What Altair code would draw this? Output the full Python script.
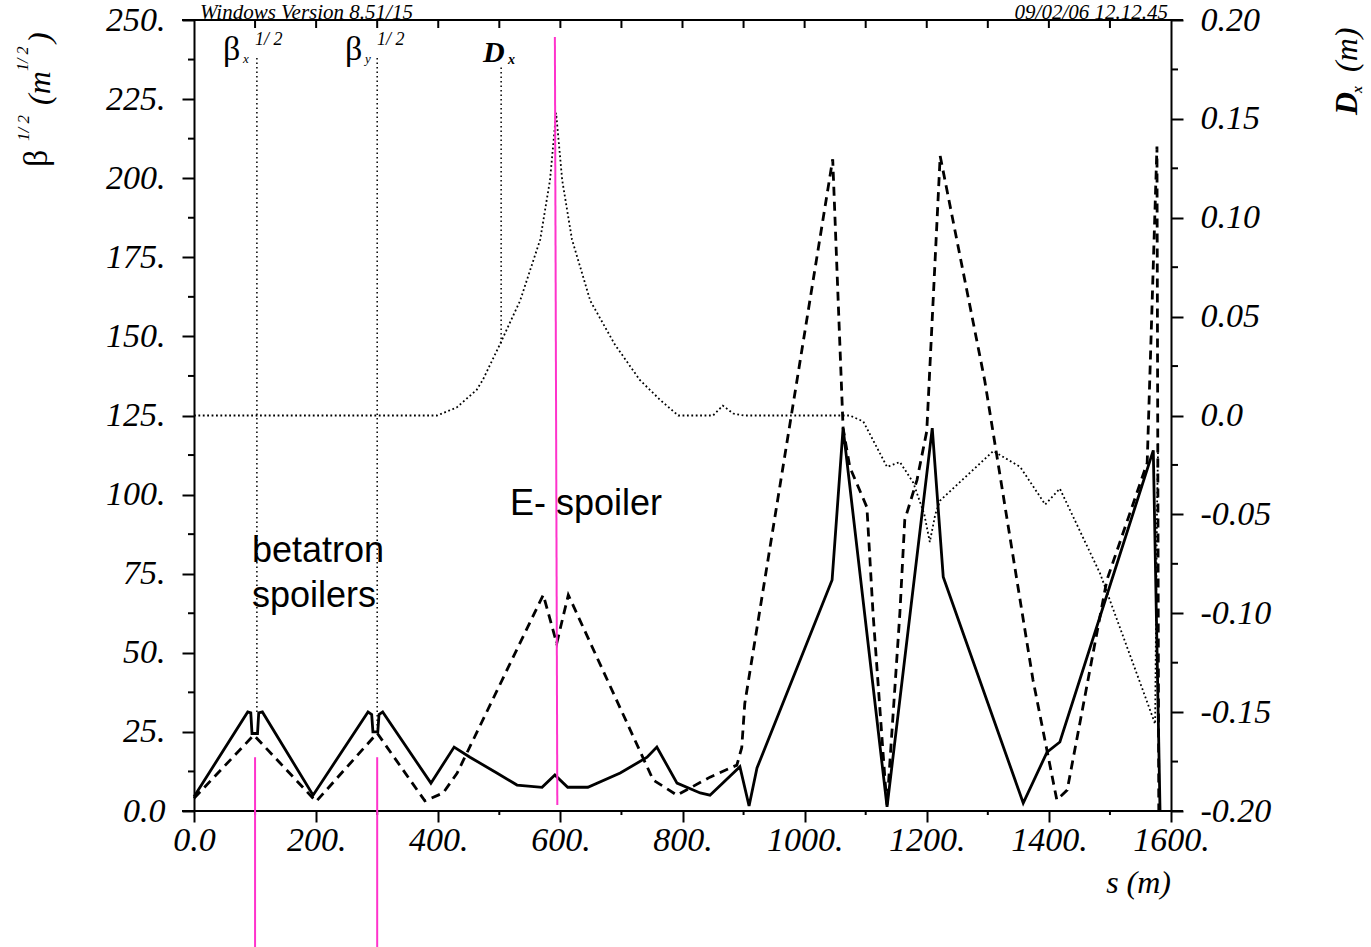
import altair as alt
import pandas as pd

# ---------------- data ----------------
# solid curve: beta_x^(1/2)  (left axis)
S_BX = [0, 88, 93, 95, 104, 106, 112, 195, 285, 291, 293, 301, 303, 309, 388, 426, 452, 496,
        529, 570, 591, 612, 645, 698, 742, 758, 791, 829, 845, 894, 909, 922, 1045, 1063,
        1135, 1209, 1227, 1358, 1397, 1418, 1571, 1582]
BETA_X = [4.5, 31.3, 31.0, 24.5, 24.5, 31.0, 31.3, 5.0, 31.3, 30.5, 25.0, 25.0, 30.5, 31.3, 8.8,
          20.2, 17.0, 12.0, 8.2, 7.5, 11.4, 7.5, 7.5, 12.0, 17.0, 20.2, 8.8, 5.7, 5.0, 14.0, 1.6,
          13.6, 73.0, 121.0, 1.3, 121.0, 74.0, 2.5, 18.6, 21.8, 114.0, 0.3]

# dashed curve: beta_y^(1/2)  (left axis)
S_BY = [0, 98, 200, 300, 378, 408, 431, 572, 594, 613, 752, 791, 845, 889, 897, 902, 1046,
        1063, 1074, 1102, 1112, 1132, 1135, 1156, 1164, 1184, 1200, 1222, 1295, 1374, 1413,
        1430, 1495, 1561, 1577, 1580]
BETA_Y = [4.0, 24.0, 3.0, 24.6, 3.2, 5.7, 12.0, 68.3, 53.0, 68.3, 9.8, 5.0, 10.7, 14.5, 20.0,
          34.0, 206.0, 121.0, 108.7, 96.0, 62.6, 8.8, 2.0, 62.6, 92.0, 104.6, 120.0, 207.0,
          136.0, 41.4, 3.5, 6.6, 73.0, 110.0, 210.0, 0.0]

# dotted curve: D_x (right axis)
S_DX = [0, 398, 430, 463, 473, 501, 534, 567, 583, 593, 603, 619, 649, 689, 730, 763, 793,
        850, 866, 883, 900, 1074, 1096, 1135, 1156, 1178, 1196, 1205, 1214, 1222, 1309, 1353,
        1394, 1418, 1484, 1554, 1574, 1577, 1579]
DX = [0, 0, 0.004, 0.013, 0.018, 0.036, 0.058, 0.089, 0.119, 0.153, 0.119, 0.089, 0.058,
      0.036, 0.018, 0.008, 0, 0, 0.005, 0.001, 0, 0, -0.003, -0.026, -0.0235, -0.034, -0.05,
      -0.064, -0.05, -0.043, -0.018, -0.026, -0.045, -0.037, -0.08, -0.139, -0.156, -0.05,
      -0.013]

X_MAJOR = [0, 200, 400, 600, 800, 1000, 1200, 1400, 1600]
X_MINOR = [100, 300, 500, 700, 900, 1100, 1300, 1500]
X_TOP = [100, 200, 300, 400, 500, 600, 700, 800, 900, 1000, 1100, 1200, 1300, 1400, 1500]
YL_MAJOR = [0, 25, 50, 75, 100, 125, 150, 175, 200, 225, 250]
YL_MINOR = [12.5, 37.5, 62.5, 87.5, 112.5, 137.5, 162.5, 187.5, 212.5, 237.5]
YR_MAJOR = [-0.2, -0.15, -0.1, -0.05, 0, 0.05, 0.1, 0.15, 0.2]
YR_MINOR = [-0.175, -0.125, -0.075, -0.025, 0.025, 0.075, 0.125, 0.175]

# spoiler markers (magenta)
SPOIL_S = [100, 300]
SPOIL_TOP = [17, 17]
SPOIL_BOT = [-43, -43]
ESP_S = [591]
ESP_S2 = [595]
ESP_TOP = [244.6]
ESP_BOT = [1.9]

# dotted label pointers under the curve names
MARK_S = [103, 300, 503]
MARK_TOP = [238, 238, 235]
MARK_BOT = [31.3, 26, 147]

# ---------------- chart ----------------
W, H = 977, 791
SERIF = "Liberation Serif"
SANS = "Liberation Sans"
MAG = "#FF33CC"

XS = alt.Scale(domain=[0, 1600], nice=False, zero=False)
YLS = alt.Scale(domain=[0, 250], nice=False, zero=False)
YRS = alt.Scale(domain=[-0.2, 0.2], nice=False, zero=False)

common = dict(grid=False, title=None, labelFont=SERIF, labelFontSize=34, labelFontStyle="italic",
              labelColor="black", tickColor="black", tickWidth=2, domainColor="black",
              domainWidth=2, labelOverlap=False, labelFlush=False)
AX_X = alt.Axis(values=X_MAJOR, orient="bottom", domain=False, tickSize=11, labelPadding=1,
                labelAngle=0,
                labelExpr="datum.value == 0 ? '0.0' : datum.value + '.'", **common)
AX_YL = alt.Axis(values=YL_MAJOR, orient="left", tickSize=12, labelPadding=17,
                 labelExpr="datum.value == 0 ? '0.0' : datum.value + '.'", **common)
AX_YR = alt.Axis(values=YR_MAJOR, orient="right", tickSize=12, labelPadding=17,
                 labelExpr="datum.value == 0 ? '0.0' : (datum.value < 0 ? '-' : '') + format(abs(datum.value), '.2f')",
                 **common)


def xq(f):
    return alt.X(f, scale=XS, axis=AX_X)


def ylq(f):
    return alt.Y(f, scale=YLS, axis=AX_YL)


def yrq(f):
    return alt.Y(f, scale=YRS, axis=AX_YR)


def txt(s, x, y, size, font=SERIF, style="normal", weight="normal", align="left", angle=0):
    return alt.Chart(pd.DataFrame({"t": [s]})).mark_text(
        font=font, fontSize=size, fontStyle=style, fontWeight=weight, align=align,
        baseline="alphabetic", angle=angle, color="black"
    ).encode(text="t:N", x=alt.value(x), y=alt.value(y))


def dtxt(s, sx, by, size, font=SANS, style="normal", weight="normal"):
    return alt.Chart(pd.DataFrame({"t": [s], "s": [sx], "b": [by]})).mark_text(
        font=font, fontSize=size, fontStyle=style, fontWeight=weight, align="left",
        baseline="alphabetic", color="black"
    ).encode(text="t:N", x=xq("s:Q"), y=ylq("b:Q"))


df_bx = pd.DataFrame({"s": S_BX, "b": BETA_X, "i": range(len(S_BX))})
df_by = pd.DataFrame({"s": S_BY, "b": BETA_Y, "i": range(len(S_BY))})
df_dx = pd.DataFrame({"s": S_DX, "d": DX, "i": range(len(S_DX))})

solid = alt.Chart(df_bx).mark_line(color="black", strokeWidth=2.8).encode(
    x=xq("s:Q"), y=ylq("b:Q"), order="i:Q")
dashed = alt.Chart(df_by).mark_line(color="black", strokeWidth=2.8, strokeDash=[9, 6]).encode(
    x=xq("s:Q"), y=ylq("b:Q"), order="i:Q")
dotted = alt.Chart(df_dx).mark_line(color="black", strokeWidth=1.8, strokeDash=[1.8, 2.6]).encode(
    x=xq("s:Q"), y=yrq("d:Q"), order="i:Q")

left_minor = alt.Chart(pd.DataFrame({"v": YL_MINOR})).mark_rule(color="black", strokeWidth=2).encode(
    y=ylq("v:Q"), x=alt.value(-6), x2=alt.value(0))
right_minor = alt.Chart(pd.DataFrame({"v": YR_MINOR})).mark_rule(color="black", strokeWidth=2).encode(
    y=yrq("v:Q"), x=alt.value(W), x2=alt.value(W + 7))
top_ticks = alt.Chart(pd.DataFrame({"v": X_TOP})).mark_rule(color="black", strokeWidth=2).encode(
    x=xq("v:Q"), y=alt.value(0), y2=alt.value(8))
bot_minor = alt.Chart(pd.DataFrame({"v": X_MINOR})).mark_rule(color="black", strokeWidth=2).encode(
    x=xq("v:Q"), y=alt.value(H), y2=alt.value(H + 4))
frame_top = alt.Chart(pd.DataFrame({"a": [0]})).mark_rule(color="black", strokeWidth=2).encode(
    x=alt.value(-12), x2=alt.value(W + 12), y=alt.value(0))
frame_bot = alt.Chart(pd.DataFrame({"a": [0]})).mark_rule(color="black", strokeWidth=2).encode(
    x=alt.value(-12), x2=alt.value(W + 12), y=alt.value(H))

pointers = alt.Chart(pd.DataFrame({"s": MARK_S, "top": MARK_TOP, "bot": MARK_BOT})).mark_rule(
    color="black", strokeWidth=1.5, strokeDash=[1.5, 3]).encode(
    x=xq("s:Q"), y=ylq("top:Q"), y2="bot:Q")

spoil = alt.Chart(pd.DataFrame({"s": SPOIL_S, "top": SPOIL_TOP, "bot": SPOIL_BOT})).mark_rule(
    color=MAG, strokeWidth=2).encode(x=xq("s:Q"), y=ylq("top:Q"), y2="bot:Q")
esp = alt.Chart(pd.DataFrame({"s": ESP_S, "s2": ESP_S2, "top": ESP_TOP, "bot": ESP_BOT})).mark_rule(
    color=MAG, strokeWidth=2).encode(x=xq("s:Q"), x2="s2:Q", y=ylq("top:Q"), y2="bot:Q")

texts_in = [
    dtxt("E- spoiler", 517.5, 93.5, 36),
    dtxt("betatron", 95, 78.7, 36),
    dtxt("spoilers", 95, 64.5, 36),
]

# curve name labels at the top of the frame (pixel offsets from plot origin)
names = [
    txt("β", 29, 40, 34),
    txt("x", 49, 43, 13, style="italic"),
    txt("1/ 2", 61, 25, 18, style="italic"),
    txt("β", 151, 40, 34),
    txt("y", 171, 43, 13, style="italic"),
    txt("1/ 2", 183, 25, 18, style="italic"),
    txt("D", 289, 42, 30, style="italic", weight="bold"),
    txt("x", 314, 44, 14, style="italic", weight="bold"),
]

header = [
    txt("Windows Version 8.51/15", 6, -1.5, 21, style="italic"),
    txt("09/02/06  12.12.45", 974, -1.5, 21, style="italic", align="right"),
    txt("s (m)", 977, 873, 32, style="italic", align="right"),
]

# rotated axis titles
ytitles = [
    txt("β", -147, 147, 34, angle=270),
    txt("1/ 2", -165, 121, 17, style="italic", angle=270),
    txt("(m", -144, 85, 32, style="italic", angle=270),
    txt("1/ 2", -166, 51, 16, style="italic", angle=270),
    txt(")", -144, 23, 32, style="italic", angle=270),
    txt("D", 1163, 95, 32, style="italic", weight="bold", angle=270),
    txt("x", 1168, 73, 14, style="italic", weight="bold", angle=270),
    txt("(m)", 1163, 52, 32, style="italic", angle=270),
]

right_group = alt.layer(dotted, right_minor)
left_group = alt.layer(
    pointers, dashed, solid, left_minor, top_ticks, bot_minor, frame_top, frame_bot,
    *texts_in, *names, *header, *ytitles, spoil, esp
)

chart = alt.layer(right_group, left_group).resolve_scale(y="independent").properties(
    width=W, height=H, autosize=alt.AutoSizeParams(type="none"),
    padding={"left": 194, "top": 20, "right": 200, "bottom": 136},
    background="white"
).configure_view(stroke=None)

chart.save("out.html", embed_options={"renderer": "svg", "actions": False})
